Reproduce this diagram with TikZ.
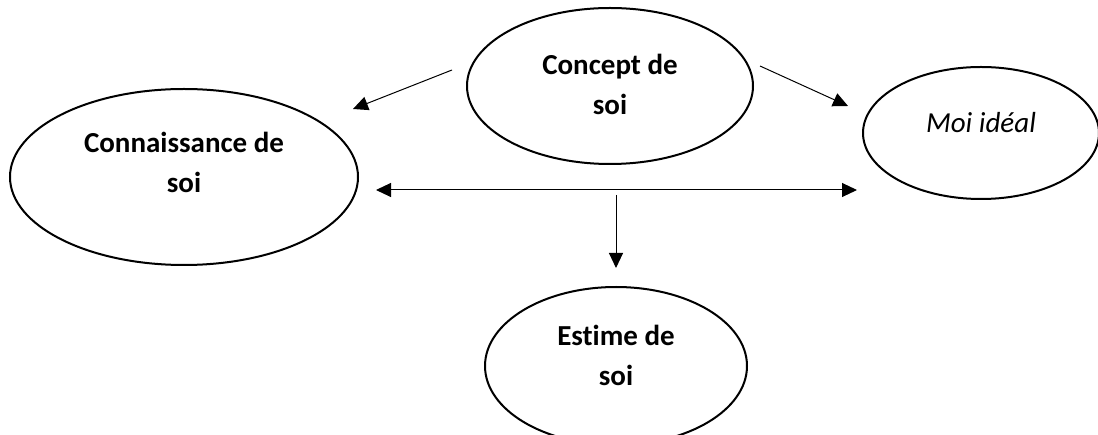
\documentclass[tikz,border=0pt]{standalone}
\usepackage{fontspec}
\setmainfont{Carlito}[Ligatures=NoCommon]
\usetikzlibrary{arrows.meta,shapes.geometric}
\begin{document}
\begin{tikzpicture}[x=1pt,y=-1pt,
  bubble/.style={draw,ellipse,line width=2pt,inner sep=0pt},
  txt/.style={align=center,inner sep=0pt,font=\fontsize{29}{40}\selectfont\bfseries},
  itxt/.style={align=center,inner sep=0pt,font=\fontsize{29}{40}\selectfont\itshape},
  conn/.style={line width=1pt,-{Triangle[length=15pt,width=14pt]}},
  both/.style={line width=1pt,{Triangle[length=15pt,width=14pt]}-{Triangle[length=15pt,width=14pt]}}]
\useasboundingbox (0,0) rectangle (1098,435);
\node[bubble,minimum width=286pt,minimum height=156pt,
  label={[txt,name=conceptT,yshift=2pt]center:Concept de\\soi}] (concept) at (610,86) {};
\node[bubble,minimum width=348pt,minimum height=176pt,
  label={[txt,name=knowT,yshift=15pt]center:Connaissance de\\soi}] (know) at (184,177) {};
\node[bubble,minimum width=236pt,minimum height=132pt,
  label={[itxt,name=idealT,yshift=10pt]center:Moi idéal}] (ideal) at (981,133) {};
\node[bubble,minimum width=262pt,minimum height=158pt,
  label={[txt,name=esteemT,yshift=11pt]center:Estime de\\soi}] (esteem) at (616,366) {};
\coordinate (a1) at (452,70);
\coordinate (a2) at (353,109);
\coordinate (b1) at (760,66);
\coordinate (b2) at (848,106);
\coordinate (h1) at (376,190);
\coordinate (h2) at (857,190);
\coordinate (v1) at (616,195);
\coordinate (v2) at (616,268);
\draw[conn] (a1) -- (a2);
\draw[conn] (b1) -- (b2);
\draw[both] (h1) -- (h2);
\draw[conn] (v1) -- (v2);
\end{tikzpicture}
\end{document}
